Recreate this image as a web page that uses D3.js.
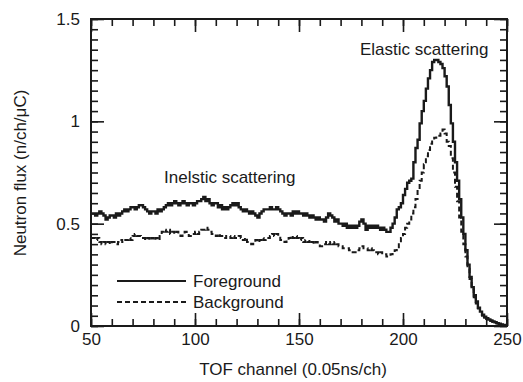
<!DOCTYPE html>
<html>
<head>
<meta charset="utf-8">
<script src="https://cdn.jsdelivr.net/npm/d3@7"></script>
<style>
  html, body { margin: 0; padding: 0; background: #fff; }
  svg { display: block; font-family: "Liberation Sans", Arial, sans-serif; }
</style>
</head>
<body>
<div id="chart"></div>
<script>
// TOF spectrum: foreground vs background, one value per channel from 50 to 250
const channelStart = 50;

const foreground = [
  0.55, 0.55, 0.54, 0.55, 0.56, 0.55, 0.54, 0.52, 0.53, 0.54,
  0.54, 0.53, 0.55, 0.54, 0.55, 0.56, 0.57, 0.56, 0.57, 0.58,
  0.58, 0.57, 0.58, 0.59, 0.59, 0.58, 0.57, 0.56, 0.55, 0.56,
  0.56, 0.55, 0.57, 0.56, 0.57, 0.58, 0.59, 0.60, 0.59, 0.60,
  0.61, 0.60, 0.59, 0.60, 0.61, 0.60, 0.59, 0.60, 0.60, 0.59,
  0.60, 0.61, 0.61, 0.62, 0.63, 0.61, 0.62, 0.60, 0.59, 0.60,
  0.60, 0.58, 0.59, 0.57, 0.58, 0.57, 0.58, 0.59, 0.60, 0.59,
  0.60, 0.58, 0.57, 0.56, 0.57, 0.56, 0.55, 0.56, 0.55, 0.54,
  0.53, 0.55, 0.56, 0.57, 0.57, 0.57, 0.58, 0.57, 0.57, 0.58,
  0.57, 0.56, 0.55, 0.54, 0.55, 0.55, 0.54, 0.56, 0.55, 0.56,
  0.55, 0.55, 0.54, 0.55, 0.54, 0.53, 0.54, 0.53, 0.52, 0.53,
  0.52, 0.52, 0.51, 0.53, 0.55, 0.54, 0.53, 0.51, 0.52, 0.50,
  0.50, 0.49, 0.50, 0.48, 0.49, 0.48, 0.49, 0.48, 0.49, 0.51,
  0.52, 0.50, 0.47, 0.49, 0.48, 0.49, 0.48, 0.49, 0.48, 0.47,
  0.48, 0.47, 0.46, 0.46, 0.48, 0.50, 0.53, 0.57, 0.58, 0.60,
  0.64, 0.67, 0.70, 0.71, 0.72, 0.80, 0.87, 0.91, 0.99, 1.05,
  1.10, 1.16, 1.21, 1.25, 1.29, 1.30, 1.30, 1.29, 1.28, 1.26,
  1.22, 1.17, 1.08, 0.99, 0.90, 0.80, 0.71, 0.62, 0.53, 0.45,
  0.37, 0.30, 0.24, 0.19, 0.15, 0.12, 0.09, 0.07, 0.055, 0.045,
  0.038, 0.032, 0.027, 0.022, 0.018, 0.014, 0.011, 0.008, 0.005, 0.003,
  0.0
];

const background = [
  0.43, 0.43, 0.42, 0.43, 0.41, 0.40, 0.41, 0.40, 0.41, 0.40,
  0.41, 0.41, 0.40, 0.41, 0.42, 0.41, 0.42, 0.42, 0.43, 0.42,
  0.44, 0.45, 0.44, 0.44, 0.43, 0.43, 0.42, 0.43, 0.42, 0.43,
  0.42, 0.43, 0.42, 0.44, 0.46, 0.47, 0.46, 0.47, 0.45, 0.46,
  0.45, 0.46, 0.45, 0.44, 0.45, 0.46, 0.45, 0.44, 0.45, 0.45,
  0.46, 0.45, 0.46, 0.47, 0.47, 0.48, 0.47, 0.46, 0.45, 0.45,
  0.44, 0.45, 0.44, 0.44, 0.43, 0.44, 0.44, 0.43, 0.44, 0.43,
  0.43, 0.44, 0.43, 0.42, 0.43, 0.41, 0.41, 0.40, 0.41, 0.42,
  0.41, 0.42, 0.43, 0.42, 0.43, 0.43, 0.44, 0.45, 0.44, 0.45,
  0.44, 0.42, 0.42, 0.41, 0.42, 0.43, 0.44, 0.43, 0.44, 0.43,
  0.42, 0.43, 0.41, 0.42, 0.41, 0.42, 0.41, 0.40, 0.41, 0.40,
  0.39, 0.39, 0.40, 0.41, 0.40, 0.41, 0.40, 0.41, 0.40, 0.39,
  0.39, 0.38, 0.38, 0.38, 0.37, 0.36, 0.36, 0.36, 0.37, 0.38,
  0.39, 0.38, 0.38, 0.37, 0.38, 0.37, 0.36, 0.36, 0.35, 0.36,
  0.35, 0.35, 0.34, 0.34, 0.35, 0.36, 0.37, 0.38, 0.40, 0.43,
  0.45, 0.48, 0.50, 0.52, 0.55, 0.58, 0.62, 0.66, 0.71, 0.75,
  0.79, 0.83, 0.86, 0.89, 0.91, 0.92, 0.93, 0.93, 0.94, 0.96,
  0.94, 0.90, 0.88, 0.82, 0.75, 0.68, 0.61, 0.53, 0.46, 0.40,
  0.34, 0.28, 0.23, 0.18, 0.14, 0.11, 0.085, 0.065, 0.05, 0.04,
  0.034, 0.028, 0.024, 0.02, 0.016, 0.012, 0.009, 0.006, 0.004, 0.002,
  0.0
];

const xTicks = [50, 100, 150, 200, 250];
const yTicks = [0, 0.5, 1, 1.5];
const yTickLabels = ['0', '0.5', '1', '1.5'];

const W = 523, H = 382;
const m = { top: 19, right: 16, bottom: 56, left: 91 };
const ink = '#1a1a1a';

const svg = d3.select('#chart').append('svg')
  .attr('width', W).attr('height', H);

const x = d3.scaleLinear().domain([50, 250]).range([m.left, W - m.right]);
const y = d3.scaleLinear().domain([0, 1.5]).range([H - m.bottom, m.top]);

svg.append('defs').append('clipPath').attr('id', 'plot')
  .append('rect')
  .attr('x', m.left).attr('y', m.top)
  .attr('width', W - m.left - m.right).attr('height', H - m.top - m.bottom);

// -- ticks on all four sides, pointing inward
const xMinor = d3.range(50, 251, 10);
const yMinor = d3.range(0, 1.501, 0.05);
const MAJ = 13, MIN = 7;

function tickAxis(axisFn, scale, values, size, translate) {
  const g = svg.append('g')
    .attr('transform', translate)
    .call(axisFn(scale).tickValues(values).tickSize(-size).tickFormat(''));
  g.select('.domain').remove();
  g.selectAll('line').attr('stroke', ink).attr('stroke-width', 1.6);
  return g;
}

const bottomY = `translate(0,${H - m.bottom})`;
const topY = `translate(0,${m.top})`;
const leftX = `translate(${m.left},0)`;
const rightX = `translate(${W - m.right},0)`;

tickAxis(d3.axisBottom, x, xMinor, MIN, bottomY);
tickAxis(d3.axisBottom, x, xTicks, MAJ, bottomY);
tickAxis(d3.axisTop, x, xMinor, MIN, topY);
tickAxis(d3.axisTop, x, xTicks, MAJ, topY);
tickAxis(d3.axisLeft, y, yMinor, MIN, leftX);
tickAxis(d3.axisLeft, y, yTicks, MAJ, leftX);
tickAxis(d3.axisRight, y, yMinor, MIN, rightX);
tickAxis(d3.axisRight, y, yTicks, MAJ, rightX);

// tick labels
const xLab = svg.append('g')
  .attr('transform', bottomY)
  .call(d3.axisBottom(x).tickValues(xTicks).tickSize(0).tickPadding(7));
xLab.select('.domain').remove();
xLab.selectAll('text').attr('font-size', 17).attr('fill', ink)
  .attr('font-family', '"Liberation Sans", Arial, sans-serif');

const yLab = svg.append('g')
  .attr('transform', leftX)
  .call(d3.axisLeft(y).tickValues(yTicks).tickSize(0).tickPadding(11)
    .tickFormat((d, i) => yTickLabels[i]));
yLab.select('.domain').remove();
yLab.selectAll('text').attr('font-size', 17).attr('fill', ink)
  .attr('font-family', '"Liberation Sans", Arial, sans-serif');

// -- histogram lines
const line = d3.line()
  .x((d, i) => x(channelStart + i))
  .y(d => y(d))
  .curve(d3.curveStepAfter);

const plot = svg.append('g').attr('clip-path', 'url(#plot)');
plot.append('path').datum(background)
  .attr('d', line).attr('fill', 'none')
  .attr('stroke', ink).attr('stroke-width', 2)
  .attr('stroke-dasharray', '5,3');
plot.append('path').datum(foreground)
  .attr('d', line).attr('fill', 'none')
  .attr('stroke', ink).attr('stroke-width', 2.4);

// frame
svg.append('rect')
  .attr('x', m.left).attr('y', m.top)
  .attr('width', W - m.left - m.right).attr('height', H - m.top - m.bottom)
  .attr('fill', 'none').attr('stroke', ink).attr('stroke-width', 2);

// annotations
svg.append('text').attr('x', 360).attr('y', 55)
  .attr('font-size', 17).attr('fill', ink).text('Elastic scattering');
svg.append('text').attr('x', 164).attr('y', 183)
  .attr('font-size', 17).attr('fill', ink).text('Inelstic scattering');

// legend
const legend = svg.append('g');
[['Foreground', null, 281], ['Background', '5,3', 302]].forEach(([label, dash, ly]) => {
  legend.append('line')
    .attr('x1', 117).attr('x2', 186).attr('y1', ly).attr('y2', ly)
    .attr('stroke', ink).attr('stroke-width', 2)
    .attr('stroke-dasharray', dash);
  legend.append('text').attr('x', 193).attr('y', ly + 6)
    .attr('font-size', 17).attr('fill', ink).text(label);
});

// axis titles
svg.append('text')
  .attr('x', (m.left + W - m.right) / 2 - 6).attr('y', 375)
  .attr('text-anchor', 'middle').attr('font-size', 17).attr('fill', ink)
  .text('TOF channel (0.05ns/ch)');
svg.append('text')
  .attr('transform', `translate(26,173) rotate(-90)`)
  .attr('text-anchor', 'middle').attr('font-size', 17).attr('fill', ink)
  .text('Neutron flux (n/ch/μC)');
</script>
</body>
</html>
